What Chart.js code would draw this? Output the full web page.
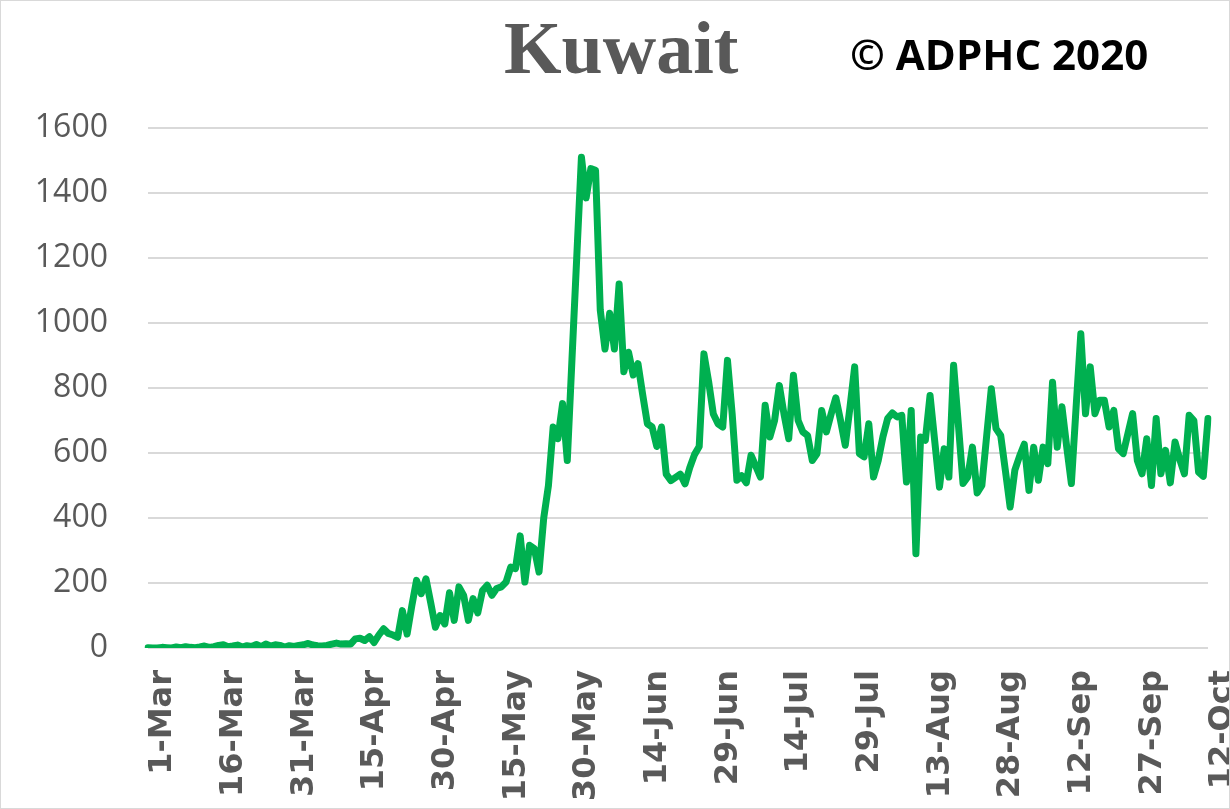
<!DOCTYPE html>
<html>
<head>
<meta charset="utf-8">
<title>Kuwait</title>
<script src="https://cdn.jsdelivr.net/npm/chart.js@4.4.0/dist/chart.umd.min.js"></script>
<style>
  html, body { margin: 0; padding: 0; background: #ffffff; }
  #wrap { position: relative; width: 1230px; height: 809px; overflow: hidden; }
  #frame { position: absolute; left: 0; top: 0; width: 1228px; height: 807px; border: 1px solid #d9d9d9; pointer-events: none; }
  #chart { position: absolute; left: 0; top: 0; }
  .title { position: absolute; left: 504px; top: 6px; line-height: 1; font: bold 74px "Liberation Serif", "Times New Roman", serif; color: #595959; white-space: nowrap; }
  .copy { position: absolute; left: 850px; top: 25px; line-height: 1; font: bold 42px "Open Sans", sans-serif; color: #000000; white-space: nowrap; }
</style>
</head>
<body>
<div id="wrap">
  <canvas id="chart" width="1230" height="809"></canvas>
  <div class="title">Kuwait</div>
  <div class="copy">© ADPHC 2020</div>
  <div id="frame"></div>
</div>
<script>
// daily new cases, 1-Mar to 12-Oct (2020)
const startDay = { year: 2020, month: 2, date: 1 };
const monthNames = ['Jan', 'Feb', 'Mar', 'Apr', 'May', 'Jun', 'Jul', 'Aug', 'Sep', 'Oct', 'Nov', 'Dec'];
const tickLabels = ['1-Mar', '16-Mar', '31-Mar', '15-Apr', '30-Apr', '15-May', '30-May', '14-Jun',
  '29-Jun', '14-Jul', '29-Jul', '13-Aug', '28-Aug', '12-Sep', '27-Sep', '12-Oct'];
const yTicks = [0, 200, 400, 600, 800, 1000, 1200, 1400, 1600];

const casesMar = [1, 0, 0, 2, 1, 0, 3, 1, 4, 2, 1, 3, 6, 2, 4, 8, 10, 4, 6, 9, 3, 7, 5, 11, 4, 12, 6, 10, 8, 3, 7];
const casesApr = [5, 8, 10, 14, 9, 7, 6, 8, 12, 15, 12, 13, 12, 28, 30, 23, 35, 17, 40, 59, 45, 40, 33, 115, 43, 130, 208, 167, 213, 140];
const casesMay = [64, 100, 74, 170, 85, 188, 162, 85, 152, 108, 177, 193, 162, 183, 188, 203, 249, 244, 345, 203, 316, 306, 234, 400, 500, 680, 644, 752, 577, 890, 1200];
const casesJun = [1510, 1385, 1475, 1470, 1040, 920, 1030, 920, 1120, 850, 910, 840, 875, 780, 690, 680, 620, 680, 535, 515, 525, 535, 505, 555, 595, 620, 905, 820, 720, 690];
const casesJul = [680, 885, 720, 516, 530, 508, 593, 560, 526, 747, 649, 700, 808, 720, 644, 839, 700, 665, 654, 577, 598, 731, 665, 720, 770, 700, 624, 740, 865, 598, 588];
const casesAug = [690, 526, 577, 650, 706, 723, 711, 716, 511, 731, 290, 649, 639, 777, 636, 495, 613, 526, 870, 690, 506, 526, 618, 477, 500, 650, 798, 675, 654, 545, 434];
const casesSep = [547, 590, 627, 485, 618, 516, 618, 567, 818, 618, 742, 620, 506, 740, 967, 721, 865, 721, 762, 762, 680, 731, 613, 598, 660, 721, 577, 536, 644, 500];
const casesOct = [706, 536, 608, 508, 634, 580, 536, 716, 700, 541, 528, 706];

const dailyCases = [].concat(casesMar, casesApr, casesMay, casesJun, casesJul, casesAug, casesSep, casesOct);

let dayLabels = [];
for (let i = 0; i < dailyCases.length; i++) {
    let d = new Date(startDay.year, startDay.month, startDay.date + i);
    dayLabels.push(d.getDate() + '-' + monthNames[d.getMonth()]);
}

const textGrey = '#595959';
const gridGrey = '#d9d9d9';
const lineGreen = '#00b050';

let ctx = document.getElementById('chart').getContext('2d');

let chart = new Chart(ctx, {
    type: 'line',
    data: {
        labels: dayLabels,
        datasets: [
            {
                label: 'Kuwait',
                data: dailyCases,
                borderColor: lineGreen,
                backgroundColor: lineGreen,
                borderWidth: 7,
                pointRadius: 0,
                tension: 0,
                borderJoinStyle: 'round',
                borderCapStyle: 'round',
                fill: false
            }
        ]
    },
    options: {
        responsive: false,
        animation: false,
        devicePixelRatio: 1,
        layout: { padding: { top: 128, right: 22, left: 0, bottom: 0 } },
        plugins: {
            legend: { display: false },
            tooltip: { enabled: false },
            title: { display: false }
        },
        scales: {
            x: {
                type: 'category',
                offset: false,
                grid: { display: false },
                border: { display: false },
                ticks: {
                    autoSkip: false,
                    minRotation: 90,
                    maxRotation: 90,
                    padding: 14,
                    labelOffset: 15,
                    color: textGrey,
                    font: { family: 'DejaVu Sans', weight: 'bold', size: 32 },
                    callback: function (value) {
                        let lab = this.getLabelForValue(value);
                        return tickLabels.includes(lab) ? lab : '';
                    }
                },
                afterFit: function (scale) {
                    scale.height = 809 - 648;
                    scale.paddingLeft = 0;
                    scale.paddingRight = 0;
                }
            },
            y: {
                min: yTicks[0],
                max: yTicks[yTicks.length - 1],
                border: { display: false },
                grid: { color: gridGrey, lineWidth: 2, drawTicks: false },
                ticks: {
                    stepSize: yTicks[1] - yTicks[0],
                    padding: 40,
                    color: textGrey,
                    font: { family: 'Open Sans', size: 32 },
                    callback: function (value) { return String(value); }
                },
                afterFit: function (scale) { scale.width = 148; }
            }
        }
    }
});
</script>
</body>
</html>
